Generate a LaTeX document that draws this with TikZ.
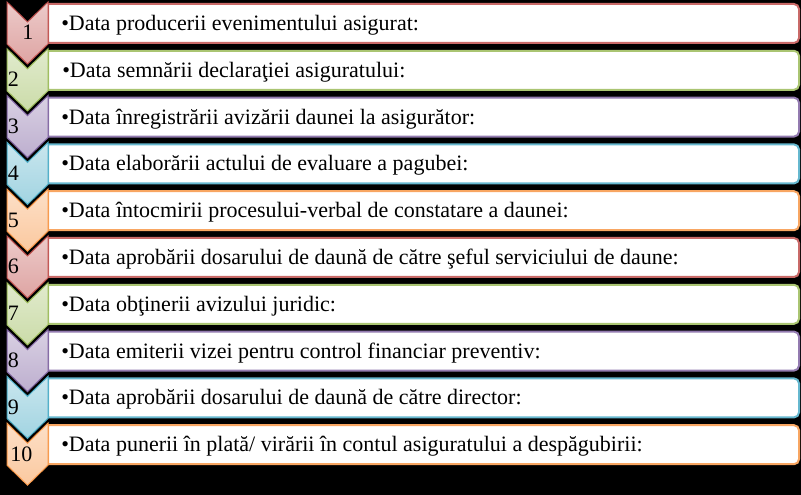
\documentclass[tikz,border=0pt]{standalone}
\usepackage{fontspec}
\setmainfont{Liberation Serif}
\usepackage{tikz}

\definecolor{accred}{HTML}{C0504D}
\definecolor{accgreen}{HTML}{9BBB59}
\definecolor{accpurple}{HTML}{8064A2}
\definecolor{accaqua}{HTML}{4BACC6}
\definecolor{accorange}{HTML}{F79646}

\tikzset{
  chev/.style={draw=#1, line width=0.75pt, top color=#1!30!white, bottom color=#1!52!white},
  box/.style={draw=#1!85!white, fill=white, line width=1.5pt},
  item/.style={anchor=base west, inner sep=0pt, font=\fontsize{16.5}{19}\selectfont},
  num/.style={anchor=base west, inner sep=0pt, font=\fontsize{16.5}{19}\selectfont}
}

\begin{document}
\begin{tikzpicture}[x=0.75pt,y=0.75pt,yscale=-1,xscale=1]
%set diagram: 801 x 495, black background
\fill [black] (0,0) rectangle (801,495);

%Row 1
\draw [box=accred] (48,4) -- (794,4) arc[start angle=-90,end angle=0,radius=5] -- (799,38) arc[start angle=0,end angle=90,radius=5] -- (48,43) -- cycle ;
\draw [chev=accred] (7,2) -- (27.5,22) -- (48,2) -- (48,44) -- (27.5,64) -- (7,44) -- cycle ;
\node (n1) [num, anchor=base] at (28,40) {1};
\node (t1) [item] at (61,30.5) {•Data producerii evenimentului asigurat:};

%Row 2
\draw [box=accgreen] (48,50.8) -- (794,50.8) arc[start angle=-90,end angle=0,radius=5] -- (799,84.8) arc[start angle=0,end angle=90,radius=5] -- (48,89.8) -- cycle ;
\draw [chev=accgreen] (7,48.8) -- (27.5,68.8) -- (48,48.8) -- (48,90.8) -- (27.5,110.8) -- (7,90.8) -- cycle ;
\node (n2) [num] at (7.5,86.8) {2};
\node (t2) [item] at (62,77.3) {•Data semnării declaraţiei asiguratului:};

%Row 3
\draw [box=accpurple] (48,97.6) -- (794,97.6) arc[start angle=-90,end angle=0,radius=5] -- (799,131.6) arc[start angle=0,end angle=90,radius=5] -- (48,136.6) -- cycle ;
\draw [chev=accpurple] (7,95.6) -- (27.5,115.6) -- (48,95.6) -- (48,137.6) -- (27.5,157.6) -- (7,137.6) -- cycle ;
\node (n3) [num] at (7.5,133.6) {3};
\node (t3) [item] at (61,124.1) {•Data înregistrării avizării daunei la asigurător:};

%Row 4
\draw [box=accaqua] (48,144.4) -- (794,144.4) arc[start angle=-90,end angle=0,radius=5] -- (799,178.4) arc[start angle=0,end angle=90,radius=5] -- (48,183.4) -- cycle ;
\draw [chev=accaqua] (7,142.4) -- (27.5,162.4) -- (48,142.4) -- (48,184.4) -- (27.5,204.4) -- (7,184.4) -- cycle ;
\node (n4) [num] at (7.5,180.4) {4};
\node (t4) [item] at (61,170.9) {•Data elaborării actului de evaluare a pagubei:};

%Row 5
\draw [box=accorange] (48,191.2) -- (794,191.2) arc[start angle=-90,end angle=0,radius=5] -- (799,225.2) arc[start angle=0,end angle=90,radius=5] -- (48,230.2) -- cycle ;
\draw [chev=accorange] (7,189.2) -- (27.5,209.2) -- (48,189.2) -- (48,231.2) -- (27.5,251.2) -- (7,231.2) -- cycle ;
\node (n5) [num] at (7.5,227.2) {5};
\node (t5) [item] at (61,217.7) {•Data întocmirii procesului-verbal de constatare a daunei:};

%Row 6
\draw [box=accred] (48,238) -- (794,238) arc[start angle=-90,end angle=0,radius=5] -- (799,272) arc[start angle=0,end angle=90,radius=5] -- (48,277) -- cycle ;
\draw [chev=accred] (7,236) -- (27.5,256) -- (48,236) -- (48,278) -- (27.5,298) -- (7,278) -- cycle ;
\node (n6) [num] at (7.5,274) {6};
\node (t6) [item] at (61,264.5) {•Data aprobării dosarului de daună de către şeful serviciului de daune:};

%Row 7
\draw [box=accgreen] (48,284.8) -- (794,284.8) arc[start angle=-90,end angle=0,radius=5] -- (799,318.8) arc[start angle=0,end angle=90,radius=5] -- (48,323.8) -- cycle ;
\draw [chev=accgreen] (7,282.8) -- (27.5,302.8) -- (48,282.8) -- (48,324.8) -- (27.5,344.8) -- (7,324.8) -- cycle ;
\node (n7) [num] at (7.5,320.8) {7};
\node (t7) [item] at (61,311.3) {•Data obţinerii avizului juridic:};

%Row 8
\draw [box=accpurple] (48,331.6) -- (794,331.6) arc[start angle=-90,end angle=0,radius=5] -- (799,365.6) arc[start angle=0,end angle=90,radius=5] -- (48,370.6) -- cycle ;
\draw [chev=accpurple] (7,329.6) -- (27.5,349.6) -- (48,329.6) -- (48,371.6) -- (27.5,391.6) -- (7,371.6) -- cycle ;
\node (n8) [num] at (7.5,367.6) {8};
\node (t8) [item] at (61,358.1) {•Data emiterii vizei pentru control financiar preventiv:};

%Row 9
\draw [box=accaqua] (48,378.4) -- (794,378.4) arc[start angle=-90,end angle=0,radius=5] -- (799,412.4) arc[start angle=0,end angle=90,radius=5] -- (48,417.4) -- cycle ;
\draw [chev=accaqua] (7,376.4) -- (27.5,396.4) -- (48,376.4) -- (48,418.4) -- (27.5,438.4) -- (7,418.4) -- cycle ;
\node (n9) [num] at (7.5,414.4) {9};
\node (t9) [item] at (61,404.9) {•Data aprobării dosarului de daună de către director:};

%Row 10
\draw [box=accorange] (48,425.2) -- (794,425.2) arc[start angle=-90,end angle=0,radius=5] -- (799,459.2) arc[start angle=0,end angle=90,radius=5] -- (48,464.2) -- cycle ;
\draw [chev=accorange] (7,423.2) -- (27.5,443.2) -- (48,423.2) -- (48,465.2) -- (27.5,485.2) -- (7,465.2) -- cycle ;
\node (n10) [num] at (10,461.2) {10};
\node (t10) [item] at (61,451.7) {•Data punerii în plată/ virării în contul asiguratului a despăgubirii:};

\end{tikzpicture}
\end{document}
